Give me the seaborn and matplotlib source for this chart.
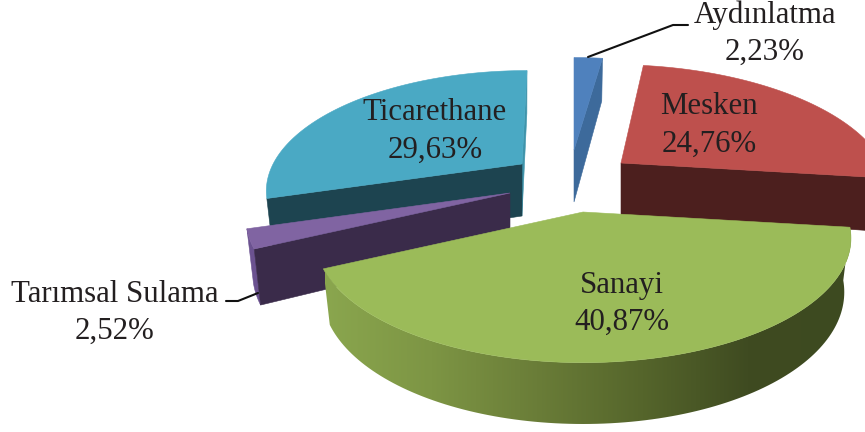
import numpy as np
import matplotlib
matplotlib.use("Agg")
import matplotlib.pyplot as plt
import seaborn as sns

# data, clockwise from 12 o'clock
categories = ["Aydınlatma", "Mesken", "Sanayi", "Tarımsal Sulama", "Ticarethane"]
shares = [2.23, 24.76, 40.87, 2.52, 29.63]

# look of the slices
top_colors = ["#4f81bd", "#be504d", "#9bbb59", "#8064a2", "#4aa9c4"]
wall_colors = ["#3d6a9b", "#4c1f1e", "#5f7030", "#3a2b4a", "#1d4450"]
centers = [(574, 150), (621, 163), (583, 212), (510, 193), (522, 164)]
scales = [0.94, 1.0, 1.0, 0.985, 0.95]
shears = [0, 8, 0, 0, -5]
label_pos = [(765, 15), (709, 107), (622, 285), (115, 294), (435, 113)]

RX, RY, PERSP, DEPTH = 262, 119, 0.21, 52


def project(theta, center, scale=1.0, shear=0.0):
    u, v = np.sin(theta), -np.cos(theta)
    s = scale / (1 - PERSP * v)
    return center[0] + u * RX * s + shear * v, center[1] + v * RY * s


def lower(x, y, theta, center):
    v = -np.cos(theta)
    return center[0] + (x - center[0]) * 0.975, y + DEPTH * (1 + 0.18 * v)


def radial_wall(ax, theta, center, scale, shear, color, z):
    x, y = project(theta, center, scale, shear)
    bx, by = lower(x, y, theta, center)
    ax.fill([center[0], x, bx, center[0]],
            [center[1], y, by, center[1] + DEPTH],
            color=color, lw=0.4, zorder=z)


def outer_wall(ax, start, stop, center, scale, shear, color, z):
    t = np.linspace(start, stop, 120)
    x, y = project(t, center, scale, shear)
    bx, by = lower(x, y, t, center)
    return ax.fill(np.r_[x, bx[::-1]], np.r_[y, by[::-1]], color=color, lw=0.4, zorder=z)[0]


sns.set_theme(style="white")
plt.rcParams["font.family"] = ["Liberation Serif", "DejaVu Serif"]

fig, ax = plt.subplots(figsize=(8.65, 4.32), dpi=100)
fig.subplots_adjust(left=0, right=1, bottom=0, top=1)

edges = np.deg2rad(np.cumsum([0] + shares) / sum(shares) * 360)

# painter's order: back slices first
for z, i in enumerate([4, 0, 1, 3, 2]):
    start, stop = edges[i], edges[i + 1]
    c, sc, sh = centers[i], scales[i], shears[i]
    base = z * 10

    if categories[i] == "Sanayi":
        # lit from the left, darkest towards the right end of the rim
        wall = outer_wall(ax, start, stop, c, sc, sh, "none", base)
        grad = sns.blend_palette(["#8aa64e", "#7d9544", "#6a7d38", "#55652b", "#3f4b21", "#3d4a20"], 256)
        ax.imshow(np.array(grad)[None, :, :], extent=(325, 855, 430, 230), aspect="auto",
                  clip_path=wall, zorder=base)
    elif categories[i] == "Mesken":
        radial_wall(ax, stop, c, sc, sh, wall_colors[i], base)
    elif categories[i] == "Tarımsal Sulama":
        outer_wall(ax, start, stop, c, sc, sh, "#6b5290", base)
        radial_wall(ax, start, c, sc, sh, wall_colors[i], base + 1)
    elif categories[i] == "Ticarethane":
        radial_wall(ax, stop, c, sc, sh, "#3f94ab", base)
        radial_wall(ax, start, c, sc, sh, wall_colors[i], base + 1)
    else:
        radial_wall(ax, stop, c, sc, sh, wall_colors[i], base)

    t = np.linspace(start, stop, 120)
    x, y = project(t, c, sc, sh)
    ax.fill(np.r_[c[0], x], np.r_[c[1], y], color=top_colors[i], lw=0.4, zorder=base + 2)

# leader lines
ax.plot([588, 673, 688], [57, 25, 25], color="#111111", lw=1.5, zorder=90)
ax.plot([258, 238, 226], [293, 301, 301], color="#111111", lw=1.5, zorder=90)

for name, share, (lx, ly) in zip(categories, shares, label_pos):
    pct = f"{share:.2f}".replace(".", ",") + "%"
    ax.text(lx, ly, name, ha="center", va="center", fontsize=22.2, color="#231f20", zorder=100)
    ax.text(lx, ly + 37, pct, ha="center", va="center", fontsize=22.2, color="#231f20", zorder=100)

ax.set_xlim(0, 865)
ax.set_ylim(432, 0)
ax.set_axis_off()

fig.savefig("out.png", dpi=100)
